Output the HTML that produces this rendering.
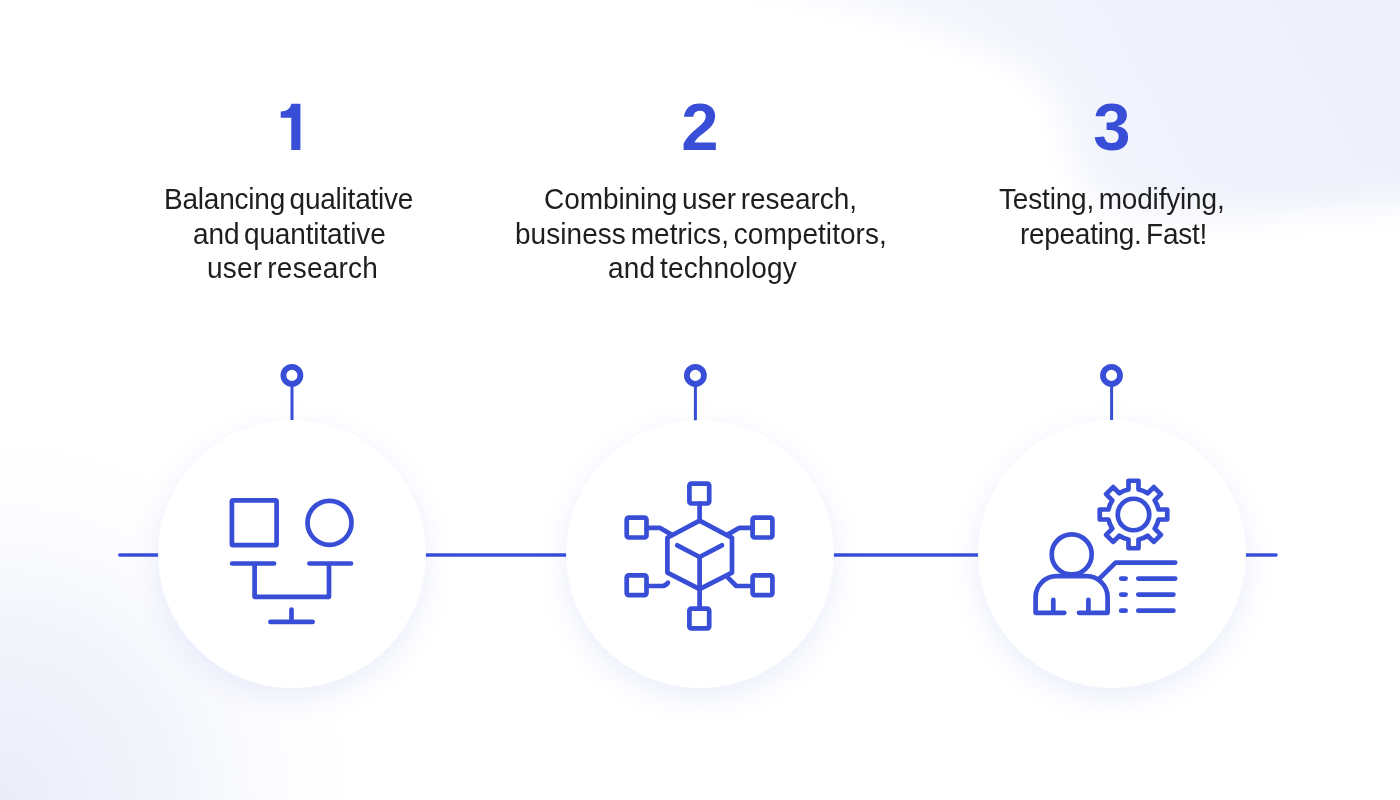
<!DOCTYPE html>
<html>
<head>
<meta charset="utf-8">
<style>
html,body{margin:0;padding:0;}
body{width:1400px;height:800px;overflow:hidden;position:relative;background:#fff;font-family:"Liberation Sans",sans-serif;}
.bg{position:absolute;left:0;top:0;width:1400px;height:800px;overflow:hidden;}
.num{position:absolute;will-change:transform;top:86.7px;width:200px;margin-left:-100px;text-align:center;font-weight:bold;font-size:67px;line-height:80px;color:#384ed7;}
.ln{position:absolute;white-space:nowrap;will-change:transform;transform:scaleY(1.04);transform-origin:0 26.7px;font-size:28px;line-height:34px;color:#1e1e1e;}
.circ{position:absolute;top:420px;width:268px;height:268px;margin-left:-134px;border-radius:50%;background:#fff;box-shadow:0 9px 30px rgba(75,100,215,0.11);}
svg{position:absolute;left:0;top:0;}

</style>
</head>
<body>
<svg class="bg" width="1400" height="800" viewBox="0 0 1400 800">
<defs>
<filter id="bl" x="-20%" y="-50%" width="140%" height="200%"><feGaussianBlur stdDeviation="16"/></filter>
<linearGradient id="lg" x1="1400" y1="0" x2="1000" y2="220" gradientUnits="userSpaceOnUse"><stop offset="0" stop-color="#edf0fb"/><stop offset="1" stop-color="#f4f6fd"/></linearGradient>
<radialGradient id="rg" cx="0" cy="0" r="1" gradientUnits="userSpaceOnUse" gradientTransform="translate(0 800) scale(390 400)">
<stop offset="0" stop-color="#eaedf9"/><stop offset="0.45" stop-color="#f3f5fc"/><stop offset="1" stop-color="#ffffff" stop-opacity="0"/>
</radialGradient>
</defs>
<path filter="url(#bl)" fill="url(#lg)" d="M650 -40C820 -10 960 30 1030 70C1062 95 1068 130 1075 165C1088 212 1150 220 1230 216C1300 212 1360 205 1440 200L1440 -40Z"/>
<rect x="0" y="300" width="700" height="500" fill="url(#rg)"/>
</svg>

<svg width="1400" height="800" viewBox="0 0 1400 800">
  <g stroke="#384ed7" fill="none" stroke-linecap="round">
    <line x1="119.8" y1="555" x2="1276" y2="555" stroke-width="3.6"/>
    <line x1="292" y1="386" x2="292" y2="421" stroke-width="3"/>
    <line x1="695.4" y1="386" x2="695.4" y2="421" stroke-width="3"/>
    <line x1="1111.6" y1="386" x2="1111.6" y2="421" stroke-width="3"/>
    <circle cx="291.9" cy="375.4" r="8.5" stroke-width="5.8"/>
    <circle cx="695.4" cy="375.4" r="8.5" stroke-width="5.8"/>
    <circle cx="1111.5" cy="375.4" r="8.5" stroke-width="5.8"/>
  </g>
</svg>

<div class="circ" style="left:292px"></div>
<div class="circ" style="left:700px"></div>
<div class="circ" style="left:1112px"></div>
<svg width="1400" height="800" viewBox="0 0 1400 800">
  <path fill="#384ed7" d="M291.3 103.8H300.4V149.9H291.3V117.8H280.7V111.6C286.5 111.4 290.4 108.6 291.3 103.8Z"/>
  <g stroke="#384ed7" fill="none" stroke-width="4.7" stroke-linecap="round" stroke-linejoin="round">
    <rect x="231.9" y="500.4" width="44.7" height="44.7" rx="1.2"/>
    <circle cx="329.5" cy="522.8" r="22"/>
    <path d="M232.1 563.5H274.1M309.4 563.5H351M254.6 563.5V596.8H329V563.5M291.5 609.6V621.9M270.4 621.9H312.6"/>
    <rect x="689.4" y="483.7" width="19.8" height="19.8" rx="2"/>
    <rect x="626.7" y="517.7" width="19.8" height="19.8" rx="2"/>
    <rect x="752.6" y="517.7" width="19.8" height="19.8" rx="2"/>
    <rect x="626.7" y="575.3" width="19.8" height="19.8" rx="2"/>
    <rect x="752.6" y="575.3" width="19.8" height="19.8" rx="2"/>
    <rect x="689.4" y="608.6" width="19.8" height="19.8" rx="2"/>
    <path d="M699.6 520.6L732 537.8V572.6L699.6 589.2L667.4 572.6V537.8Z"/>
    <path d="M677.3 545.3L699.6 557L721.9 545.3M699.6 557V608.6M699.6 503.5V521"/>
    <path d="M646.5 527.8H659.7L671.5 534.6M752.6 527.8H739.4L727.6 534.6M646.5 586H662.3Q665 586 667.9 582.8M752.6 586H736.3L728.2 577.8"/>
    <path d="M1128.50 489.50L1128.50 480.75L1138.50 480.75L1138.50 489.50A25.50 25.50 0 0 1 1147.65 493.28L1153.83 487.10L1160.90 494.17L1154.72 500.35A25.50 25.50 0 0 1 1158.50 509.50L1167.25 509.50L1167.25 519.50L1158.50 519.50A25.50 25.50 0 0 1 1154.72 528.65L1160.90 534.83L1153.83 541.90L1147.65 535.72A25.50 25.50 0 0 1 1138.50 539.50L1138.50 548.25L1128.50 548.25L1128.50 539.50A25.50 25.50 0 0 1 1119.35 535.72L1113.17 541.90L1106.10 534.83L1112.28 528.65A25.50 25.50 0 0 1 1108.50 519.50L1099.75 519.50L1099.75 509.50L1108.50 509.50A25.50 25.50 0 0 1 1112.28 500.35L1106.10 494.17L1113.17 487.10L1119.35 493.28A25.50 25.50 0 0 1 1128.50 489.50Z"/>
    <circle cx="1133.5" cy="514.5" r="15.75"/>
    <circle cx="1071.7" cy="554.4" r="20"/>
    <path d="M1064.3 612.8H1035.6V597.2A21 21 0 0 1 1056.6 576.2H1086.6A21 21 0 0 1 1107.6 597.2V612.8H1079M1053.3 599.8V612.8M1088.4 599.8V612.8"/>
    <path d="M1099.2 578.9L1115.6 562.6H1175.2"/>
    <path d="M1121.2 578.6H1125.6M1138.3 578.6H1175.2M1121.2 594.6H1125.6M1138.3 594.6H1173.4M1121.2 610.7H1125.6M1138.3 610.7H1173.4"/>
  </g>
</svg>

<div class="num" style="left:700px">2</div>
<div class="num" style="left:1112px">3</div>
<div class="ln" style="left:164.20px;top:183.00px;letter-spacing:-0.220px;word-spacing:-3.000px">Balancing qualitative</div>
<div class="ln" style="left:193.20px;top:217.50px;letter-spacing:-0.133px;word-spacing:-3.000px">and quantitative</div>
<div class="ln" style="left:206.60px;top:252.00px;letter-spacing:0.217px;word-spacing:-3.000px">user research</div>
<div class="ln" style="left:544.00px;top:183.00px;letter-spacing:-0.070px;word-spacing:-3.000px">Combining user research,</div>
<div class="ln" style="left:515.20px;top:217.50px;letter-spacing:0.041px;word-spacing:-3.000px">business metrics, competitors,</div>
<div class="ln" style="left:608.00px;top:252.00px;letter-spacing:0.138px;word-spacing:-3.000px">and technology</div>
<div class="ln" style="left:999.00px;top:183.00px;letter-spacing:-0.178px;word-spacing:-3.000px">Testing, modifying,</div>
<div class="ln" style="left:1020.40px;top:217.50px;letter-spacing:-0.293px;word-spacing:-3.000px">repeating. Fast!</div>
</body>
</html>
